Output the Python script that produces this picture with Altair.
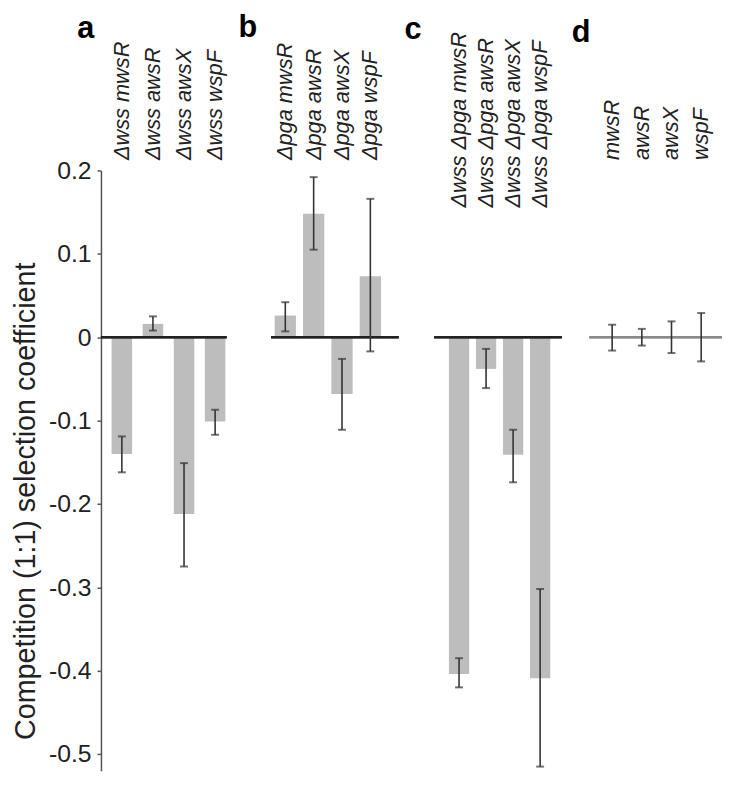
import altair as alt
import pandas as pd

FONT = "Liberation Sans"

# ---- data ----
a_strains = ["Δwss mwsR", "Δwss awsR", "Δwss awsX", "Δwss wspF"]
a_values = [-0.140, 0.016, -0.212, -0.101]
a_low = [-0.162, 0.008, -0.275, -0.117]
a_high = [-0.119, 0.025, -0.151, -0.087]

b_strains = ["Δpga mwsR", "Δpga awsR", "Δpga awsX", "Δpga wspF"]
b_values = [0.026, 0.148, -0.068, 0.073]
b_low = [0.007, 0.105, -0.111, -0.017]
b_high = [0.042, 0.192, -0.026, 0.166]

c_strains = ["Δwss Δpga mwsR", "Δwss Δpga awsR", "Δwss Δpga awsX", "Δwss Δpga wspF"]
c_values = [-0.404, -0.038, -0.141, -0.409]
c_low = [-0.420, -0.061, -0.174, -0.515]
c_high = [-0.385, -0.014, -0.111, -0.302]

d_strains = ["mwsR", "awsR", "awsX", "wspF"]
d_values = [0.0, 0.0, 0.0, 0.0]
d_low = [-0.016, -0.010, -0.019, -0.029]
d_high = [0.015, 0.010, 0.019, 0.029]

panel_letters = ["a", "b", "c", "d"]
y_ticks = [0.2, 0.1, 0, -0.1, -0.2, -0.3, -0.4, -0.5]
y_domain = [-0.52, 0.2]
y_title = "Competition (1:1) selection coefficient"

PLOT_H = 607


def ydef(field, show):
    if show:
        axis = alt.Axis(
            values=y_ticks, format="~g",
            labelExpr="replace(datum.label, '\u2212', '-')",
            labelFont=FONT, labelFontSize=25, labelColor="#222", labelPadding=6,
            tickSize=4, tickWidth=1.5, tickColor="#555",
            domainColor="#555", domainWidth=1.5, grid=False,
            titleFont=FONT, titleFontSize=29, titleFontWeight="normal",
            titleColor="#222", titlePadding=8, titleY=334,
        )
    else:
        axis = None
    return alt.Y(field, type="quantitative", title=y_title,
                 scale=alt.Scale(domain=y_domain, nice=False, zero=False), axis=axis)


def panel(strains, values, low, high, letter, width, show_y, label_pad,
          t_dx, t_off, pi, po, align, zero_color, zero_width):
    df = pd.DataFrame({"strain": strains, "value": values, "lo": low, "hi": high,
                       "zero": [0.0] * len(strains)})
    x = alt.X("strain:N", sort=strains,
              scale=alt.Scale(paddingInner=pi, paddingOuter=po, align=align),
              axis=alt.Axis(orient="top", title=None, labelAngle=-90,
                            labelFont=FONT, labelFontSize=22, labelFontStyle="italic",
                            labelColor="#222", labelPadding=label_pad, labelLimit=400,
                            labelOverlap=False, ticks=False, domain=False))
    base = alt.Chart(df)
    bars = base.mark_bar(color="#bdbdbd").encode(x=x, y=ydef("value", show_y))
    zero = base.mark_rule(color=zero_color, strokeWidth=zero_width).encode(y=ydef("zero", show_y))
    stem = base.mark_rule(color="#333", strokeWidth=1.6).encode(x=x, y=ydef("lo", show_y), y2="hi:Q")
    cap_lo = base.mark_tick(color="#333", thickness=2, size=8).encode(x=x, y=ydef("lo", show_y))
    cap_hi = base.mark_tick(color="#333", thickness=2, size=8).encode(x=x, y=ydef("hi", show_y))
    return alt.layer(bars, zero, stem, cap_lo, cap_hi).properties(
        width=width, height=PLOT_H,
        title=alt.TitleParams(text=letter, anchor="start", frame="group", dx=t_dx,
                              offset=t_off, fontSize=31, fontWeight="bold", font=FONT,
                              baseline="alphabetic", color="black"),
    )


def spacer(w):
    return alt.Chart(pd.DataFrame({"s": [0.0]})).mark_point(opacity=0).encode(
        x=alt.X("s:Q", axis=None), y=alt.Y("s:Q", axis=None)).properties(width=w, height=10)


pa = panel(a_strains, a_values, a_low, a_high, panel_letters[0], 127, True, 11,
           -24, -28, 0.34, 0.19, 0.9, "#222", 2)
pb = panel(b_strains, b_values, b_low, b_high, panel_letters[1], 129, False, 11,
           -33, -26, 0.25, 0.375, 0.17, "#222", 2)
pc = panel(c_strains, c_values, c_low, c_high, panel_letters[2], 129, False, -37,
           -30, -38, 0.25, 0.485, 0.56, "#222", 2)
pd_ = panel(d_strains, d_values, d_low, d_high, panel_letters[3], 134, False, 11,
            -18, 27, 0.3, 0.383, 0.54, "#8a8a8a", 2)

chart = alt.hconcat(pa, spacer(45), pb, spacer(36), pc, spacer(28), pd_,
                    spacing=0, bounds="flush").configure_view(stroke=None).properties(
    padding={"left": 3, "top": 0, "right": 0, "bottom": 0})

chart.save("out.html", embed_options={"renderer": "svg", "actions": False})
